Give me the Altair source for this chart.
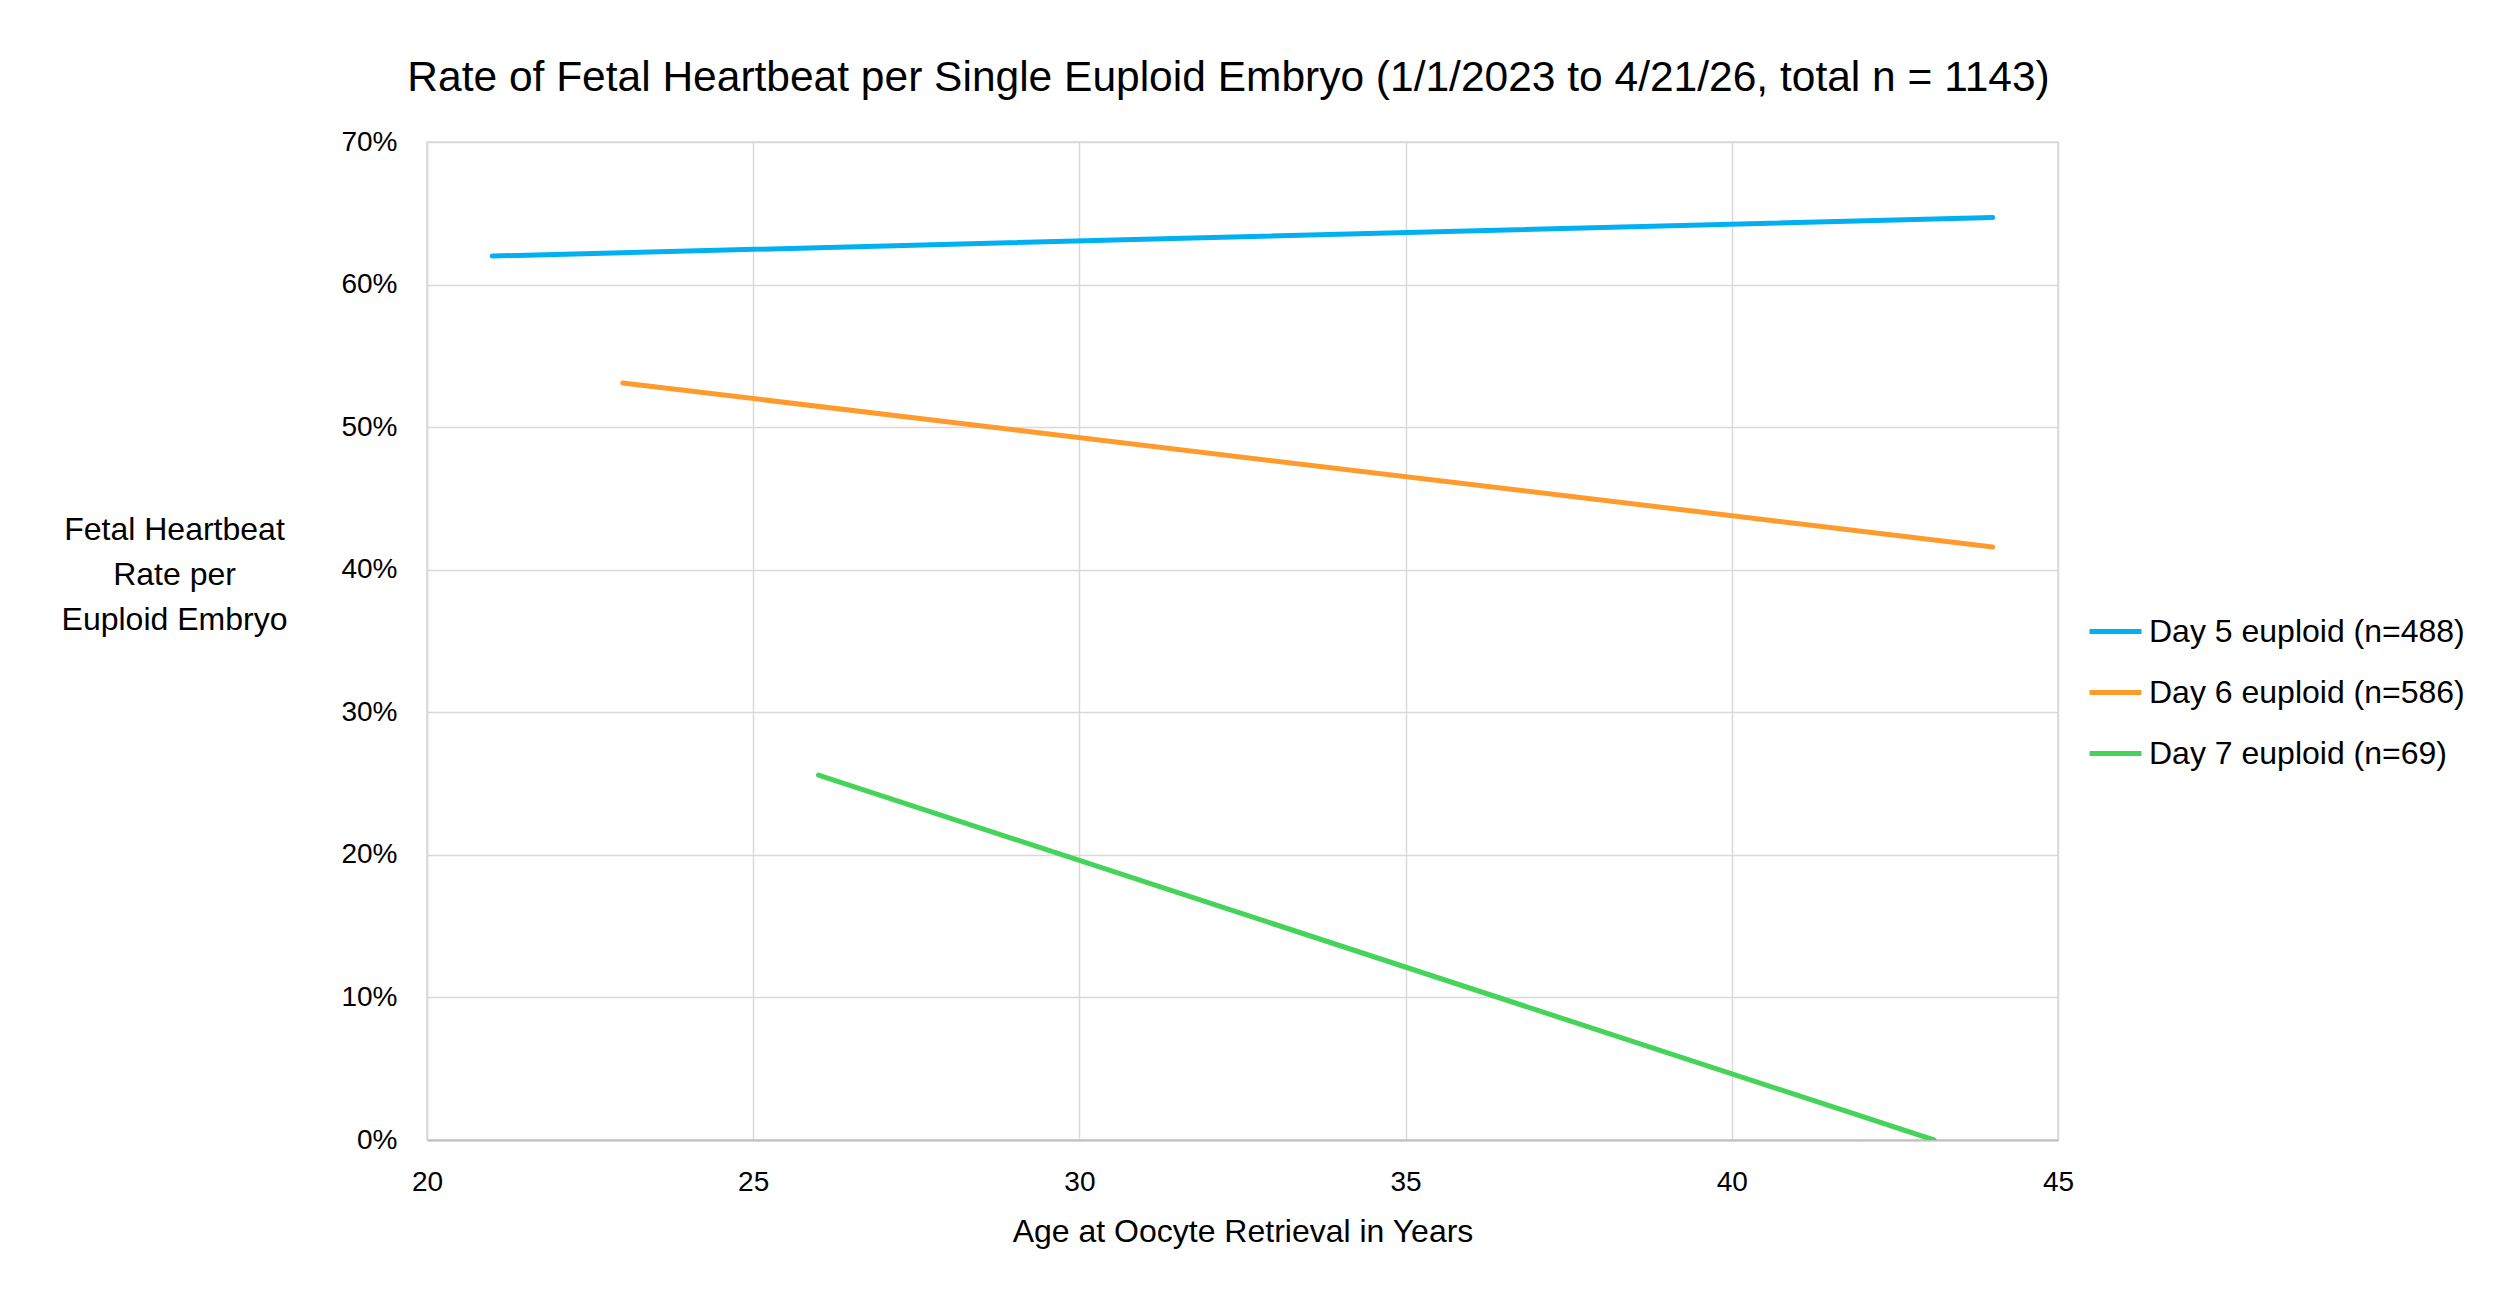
import altair as alt
import pandas as pd

# Endpoints of each series (age in years, rate as fraction)
series = ["Day 5 euploid (n=488)", "Day 6 euploid (n=586)", "Day 7 euploid (n=69)"]
day5_age = [21, 44]
day5_rate = [0.620, 0.647]
day6_age = [23, 44]
day6_rate = [0.531, 0.416]
day7_age = [26, 43.1]
day7_rate = [0.256, 0.000]
colors = ["#00B0F0", "#FF9B2C", "#45D35A"]

x_ticks = [20, 25, 30, 35, 40, 45]
y_ticks = [0, 0.1, 0.2, 0.3, 0.4, 0.5, 0.6, 0.7]

rows = []
for name, ages, rates in zip(series, [day5_age, day6_age, day7_age],
                             [day5_rate, day6_rate, day7_rate]):
    for a, r in zip(ages, rates):
        rows.append({"series": name, "age": a, "rate": r})
df = pd.DataFrame(rows)

FONT = "Liberation Sans"
GRID = "#d9d9d9"

chart = alt.Chart(df).mark_line(strokeWidth=5, strokeCap="round", clip=True).encode(
    x=alt.X("age:Q",
            scale=alt.Scale(domain=[20, 45], nice=False, zero=False),
            axis=alt.Axis(values=x_ticks, title="Age at Oocyte Retrieval in Years",
                          format="d", labelPadding=28, titlePadding=20,
                          labelFlush=False,
                          gridColor=GRID, gridWidth=1.5,
                          domainColor="#bfbfbf", domainWidth=2)),
    y=alt.Y("rate:Q",
            scale=alt.Scale(domain=[0, 0.7], nice=False),
            axis=alt.Axis(values=y_ticks, format=".0%",
                          title=["Fetal Heartbeat", "Rate per", "Euploid Embryo"],
                          titleAngle=0, titleAlign="center", titleBaseline="middle",
                          titleX=-253, titleY=387, titleLineHeight=45,
                          labelPadding=30, labelFlush=False,
                          gridColor=GRID, gridWidth=1.5,
                          domainColor=GRID, domainWidth=1.5)),
    color=alt.Color("series:N",
                    scale=alt.Scale(domain=series, range=colors),
                    legend=alt.Legend(title=None, orient="none", legendX=1660, legendY=461,
                                      symbolType="stroke", symbolSize=2704,
                                      symbolStrokeWidth=5, labelOffset=5,
                                      rowPadding=16, labelFontSize=32,
                                      labelFont=FONT, labelColor="#000000",
                                      labelLimit=600)),
).properties(
    width=1631,
    height=998,
    title=alt.TitleParams(
        "Rate of Fetal Heartbeat per Single Euploid Embryo (1/1/2023 to 4/21/26, total n = 1143)",
        anchor="middle", frame="group", fontSize=42.5, font=FONT, fontWeight="normal",
        color="#000000", baseline="alphabetic", offset=-5, dx=-14),
    autosize=alt.AutoSizeParams(type="none"),
    padding={"left": 419, "top": 134, "right": 432, "bottom": 140},
).configure_axis(
    ticks=False,
    labelFont=FONT, labelFontSize=28, labelColor="#000000",
    titleFont=FONT, titleFontSize=32, titleFontWeight="normal", titleColor="#000000",
).configure_view(
    stroke=GRID, strokeWidth=1.5,
)

chart.save("out.html", embed_options={"renderer": "svg", "actions": False})
